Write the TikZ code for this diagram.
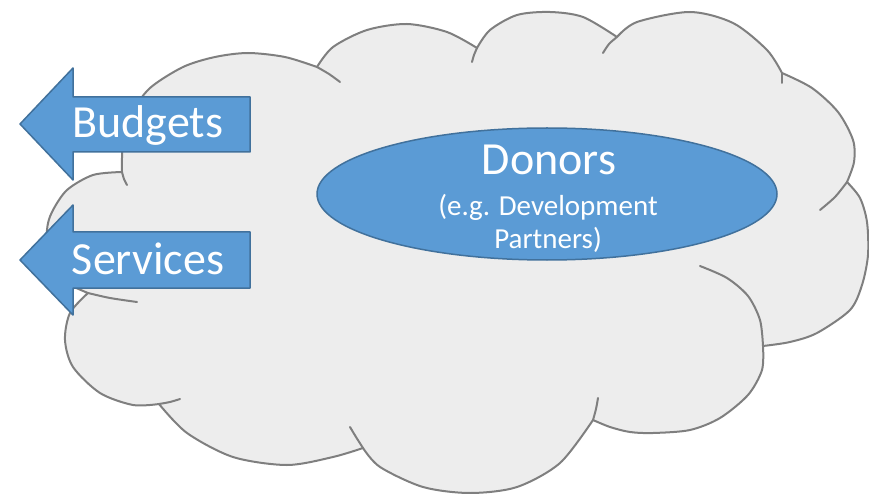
\documentclass[tikz,border=0pt]{standalone}
\usepackage{fontspec}
\setmainfont{Carlito}
\usetikzlibrary{shapes.geometric}

\begin{document}
\begin{tikzpicture}[x=1pt, y=-1pt, line join=round, line cap=round]

    % Colours
    \definecolor{cloudGray}{RGB}{237, 237, 237}
    \definecolor{cloudLine}{RGB}{127, 127, 127}
    \definecolor{flowBlue}{RGB}{91, 155, 213}
    \definecolor{flowEdge}{RGB}{65, 113, 156}

    \tikzset{
        cloudedge/.style={draw=cloudLine, line width=2pt},
        flowarrow/.style={draw=flowEdge, fill=flowBlue, line width=1.5pt},
        bigtext/.style={text=white, font=\fontsize{46}{50}\selectfont, anchor=base, inner sep=0pt},
        smalltext/.style={text=white, font=\fontsize{29}{33}\selectfont, anchor=base, inner sep=0pt},
    }

    \useasboundingbox (0,0) rectangle (869,494);

    % === CLOUD ===
    \path[cloudedge, fill=cloudGray]
        plot[smooth] coordinates {(122,172) (123,145) (133,112) (150,88) (183,67) (215,57) (248,53) (285,57) (317,67)}
        -- plot[smooth] coordinates {(317,67) (333,47) (367,30) (407,24) (447,32) (477,48)}
        -- plot[smooth] coordinates {(477,48) (490,30) (517,15) (550,12) (583,17) (617,37)}
        -- plot[smooth] coordinates {(617,37) (637,22) (690,12) (733,23) (767,50) (782,73)}
        -- plot[smooth] coordinates {(782,73) (812,88) (838,112) (853,140) (854,162) (847,182)}
        -- plot[smooth] coordinates {(847,182) (860,198) (867,222) (868,255) (862,285) (850,310) (817,333) (790,342) (763,346)}
        -- plot[smooth] coordinates {(763,346) (762,370) (748,395) (720,418) (690,430) (653,433) (630,432) (610,427) (593,420)}
        -- plot[smooth] coordinates {(593,420) (560,463) (517,487) (470,493) (423,487) (380,467) (363,448)}
        -- plot[smooth] coordinates {(363,448) (333,457) (287,465) (233,457) (187,433) (159,404)}
        -- plot[smooth] coordinates {(159,404) (133,405) (100,393) (73,367) (65,340) (70,313) (88,293)}
        -- plot[smooth] coordinates {(88,293) (62,280) (49,258) (47,230) (52,212) (67,190) (93,175) (122,172)}
        -- cycle;

    % inner arcs of the cloud
    \draw[cloudedge] plot[smooth] coordinates {(122,172) (124,179) (127,185)};
    \draw[cloudedge] plot[smooth] coordinates {(317,67) (329,74) (340,82)};
    \draw[cloudedge] plot[smooth] coordinates {(477,48) (474,55) (472,62)};
    \draw[cloudedge] plot[smooth] coordinates {(617,37) (609,44) (603,53)};
    \draw[cloudedge] plot[smooth] coordinates {(782,73) (782,78) (782,83)};
    \draw[cloudedge] plot[smooth] coordinates {(847,182) (835,197) (820,210)};
    \draw[cloudedge] plot[smooth] coordinates {(763,346) (760,320) (748,296) (727,278) (700,266)};
    \draw[cloudedge] plot[smooth] coordinates {(593,420) (596,409) (598,398)};
    \draw[cloudedge] plot[smooth] coordinates {(363,448) (356,437) (350,427)};
    \draw[cloudedge] plot[smooth] coordinates {(159,404) (170,402) (180,399)};
    \draw[cloudedge] plot[smooth] coordinates {(88,293) (110,298) (137,302)};

    % === OUTGOING ARROWS ===
    \draw[flowarrow] (250,97) -- (73,97) -- (73,68) -- (20,124) -- (73,180) -- (73,152) -- (250,152) -- cycle;
    \node[bigtext] (budgets) at (148,138) {Budgets};

    \draw[flowarrow] (250,232) -- (73,232) -- (73,205) -- (20,260) -- (73,315) -- (73,288) -- (250,288) -- cycle;
    \node[bigtext] (services) at (148,274) {Services};

    % === DONORS ===
    \node[ellipse, flowarrow, minimum width=460pt, minimum height=132pt, inner sep=0pt] (donors) at (547,194) {};
    \node[bigtext] (donorsTitle) at (549,175) {Donors};
    \node[smalltext] (donorsNote) at (548,215) {(e.g. Development};
    \node[smalltext] (donorsNoteTwo) at (548,248) {Partners)};

\end{tikzpicture}
\end{document}
